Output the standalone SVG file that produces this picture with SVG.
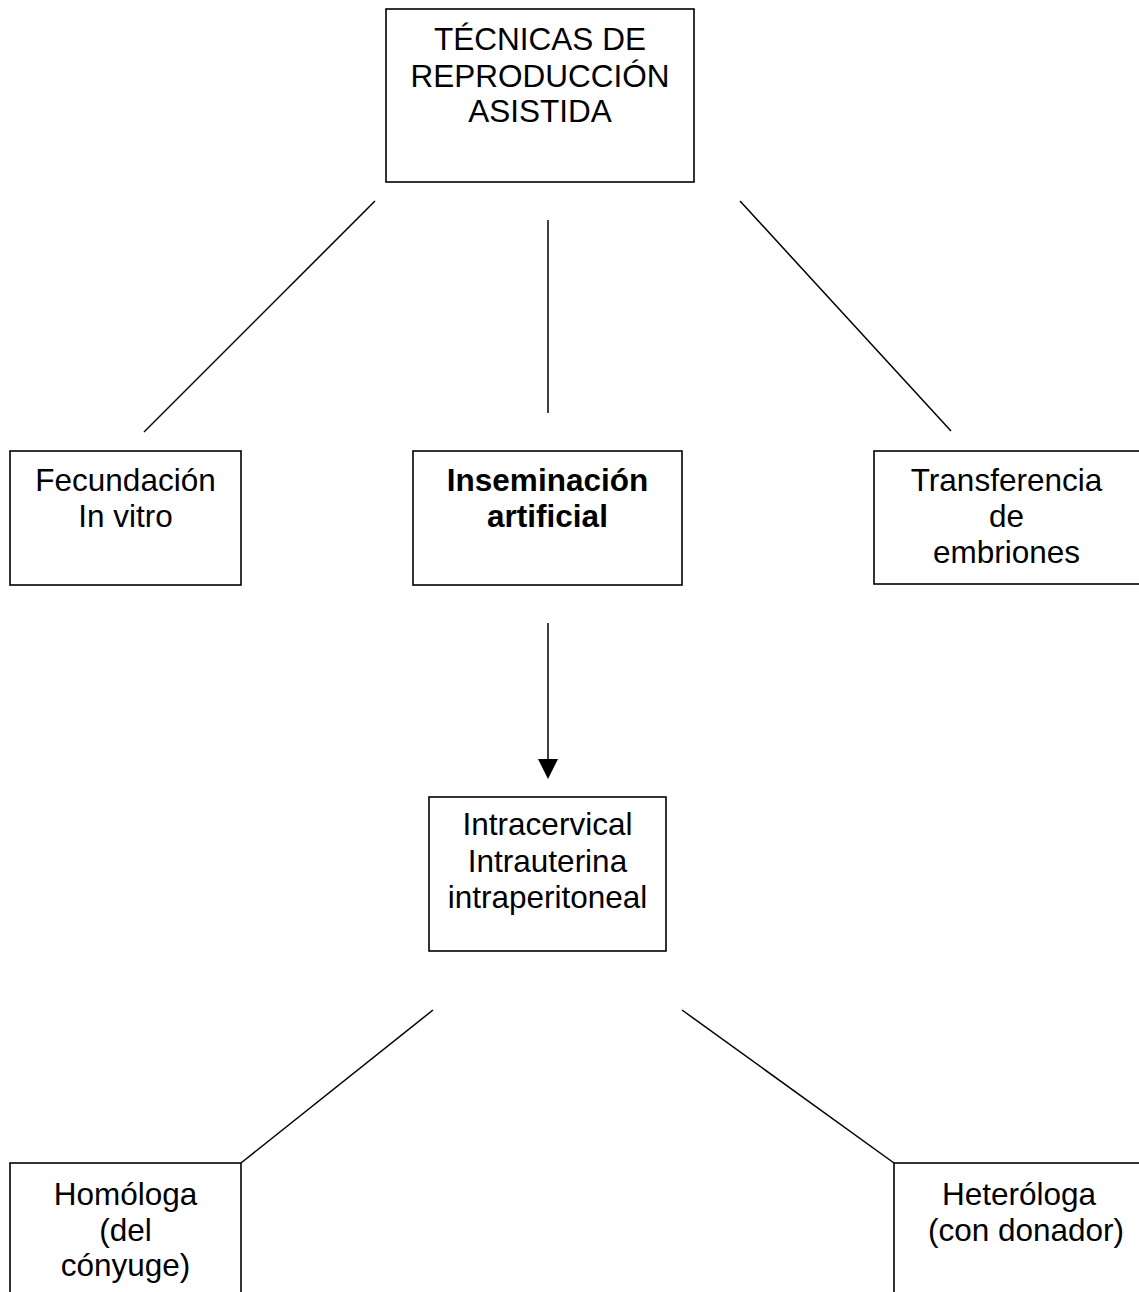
<svg xmlns="http://www.w3.org/2000/svg" width="1139" height="1292" viewBox="0 0 1139 1292">
<style>
.box{fill:#fff;stroke:#000;stroke-width:1.6}
.t{font-family:"Liberation Sans",Arial,sans-serif;font-size:31.5px;fill:#000;text-anchor:middle}
.b{font-weight:bold}
.c{stroke:#000;stroke-width:1.5;fill:none}
</style>
<defs>
<marker id="arr" markerWidth="20" markerHeight="20" refX="10" refY="20" orient="auto" markerUnits="userSpaceOnUse" viewBox="0 0 20 20">
<path d="M0,0 L20,0 L10,20 Z" fill="#000" transform="rotate(-90 10 10)"/>
</marker>
</defs>
<rect width="1139" height="1292" fill="#fff"/>
<g id="connectors">
<line class="c" x1="375" y1="201" x2="144" y2="432"/>
<line class="c" x1="548" y1="220" x2="548" y2="413"/>
<line class="c" x1="740" y1="201" x2="951" y2="431"/>
<line class="c" x1="548" y1="623" x2="548" y2="760"/>
<path d="M538,759 L558,759 L548,779 Z" fill="#000"/>
<line class="c" x1="433" y1="1010" x2="241" y2="1163"/>
<line class="c" x1="682" y1="1010" x2="894" y2="1163"/>
</g>
<g id="tecnicas">
<rect class="box" x="386" y="9" width="308" height="173"/>
<text class="t" x="540" y="50">TÉCNICAS DE</text>
<text class="t" x="540" y="87">REPRODUCCIÓN</text>
<text class="t" x="540" y="122">ASISTIDA</text>
</g>
<g id="fecundacion">
<rect class="box" x="10" y="451" width="231" height="134"/>
<text class="t" x="125.5" y="491">Fecundación</text>
<text class="t" x="125.5" y="527">In vitro</text>
</g>
<g id="inseminacion">
<rect class="box" x="413" y="451" width="269" height="134"/>
<text class="t b" x="547.5" y="491">Inseminación</text>
<text class="t b" x="547.5" y="527">artificial</text>
</g>
<g id="transferencia">
<rect class="box" x="874" y="451" width="270" height="133"/>
<text class="t" x="1006.5" y="491">Transferencia</text>
<text class="t" x="1006.5" y="527">de</text>
<text class="t" x="1006.5" y="563">embriones</text>
</g>
<g id="intracervical">
<rect class="box" x="429" y="797" width="237" height="154"/>
<text class="t" x="547.5" y="835">Intracervical</text>
<text class="t" x="547.5" y="872">Intrauterina</text>
<text class="t" x="547.5" y="908">intraperitoneal</text>
</g>
<g id="homologa">
<rect class="box" x="10" y="1163" width="231" height="140"/>
<text class="t" x="125.5" y="1205">Homóloga</text>
<text class="t" x="125.5" y="1241">(del</text>
<text class="t" x="125.5" y="1276">cónyuge)</text>
</g>
<g id="heterologa">
<rect class="box" x="894" y="1163" width="260" height="140"/>
<text class="t" x="1019" y="1205">Heteróloga</text>
<text class="t" x="1026" y="1241">(con donador)</text>
</g>
</svg>
